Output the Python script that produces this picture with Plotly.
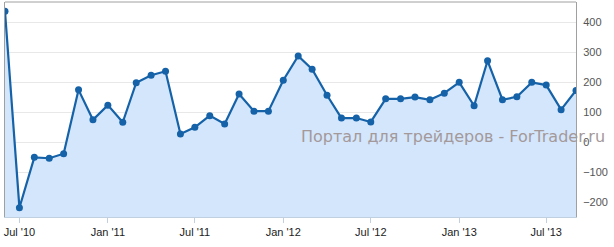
import plotly.graph_objects as go
import pandas as pd

months = pd.date_range("2010-06-01", periods=40, freq="MS")
values = [436, -219, -51, -54, -39, 174, 74, 123, 66, 198,
          223, 236, 27, 49, 88, 60, 160, 103, 103, 206,
          287, 243, 156, 80, 80, 67, 144, 144, 150, 141,
          163, 199, 121, 271, 141, 151, 199, 190, 108, 172]
y_min, y_max = -250, 467
baseline = [y_min] * len(months)

fig = go.Figure()
fig.add_trace(go.Scatter(x=months, y=baseline, mode="lines",
                         line=dict(width=0, color="rgba(0,0,0,0)"),
                         hoverinfo="skip", showlegend=False))
fig.add_trace(go.Scatter(x=months, y=values, mode="lines+markers",
                         fill="tonexty", fillcolor="#d3e6fc",
                         line=dict(color="#1562a8", width=2.2),
                         marker=dict(color="#1562a8", size=7),
                         showlegend=False))

fig.update_layout(
    width=614, height=247,
    margin=dict(l=5, r=38, t=2, b=30),
    plot_bgcolor="white", paper_bgcolor="white",
    font=dict(family="Liberation Sans, Arial, sans-serif", size=11),
    xaxis=dict(
        type="date", range=[months[0], months[-1]],
        tick0="2010-07-01", dtick="M6", tickformat="%b '%y",
        ticks="outside", ticklen=5, tickcolor="#C0D0E0",
        showgrid=False, showline=True, linecolor="#C0D0E0", linewidth=1,
        tickfont=dict(color="#222", size=11), zeroline=False,
    ),
    yaxis=dict(
        side="right", range=[y_min, y_max], dtick=100, tick0=0,
        showgrid=True, gridcolor="#e8e8e8", gridwidth=1,
        zeroline=False, showline=True, mirror=True, linecolor="#a0a0a0",
        linewidth=1, tickfont=dict(color="#555", size=11),
        ticks="", ticklabelstandoff=4,
    ),
    shapes=[dict(type="line", xref="paper", yref="paper", x0=0, x1=1, y0=1, y1=1,
                 line=dict(color="#a0a0a0", width=1))],
    annotations=[dict(text="Портал для трейдеров - ForTrader.ru",
                      xref="paper", yref="paper", x=0.785, y=0.375,
                      xanchor="center", yanchor="middle", showarrow=False,
                      font=dict(family="DejaVu Sans", size=16, color="#a4999a"))],
)

fig.write_html("out.html")
